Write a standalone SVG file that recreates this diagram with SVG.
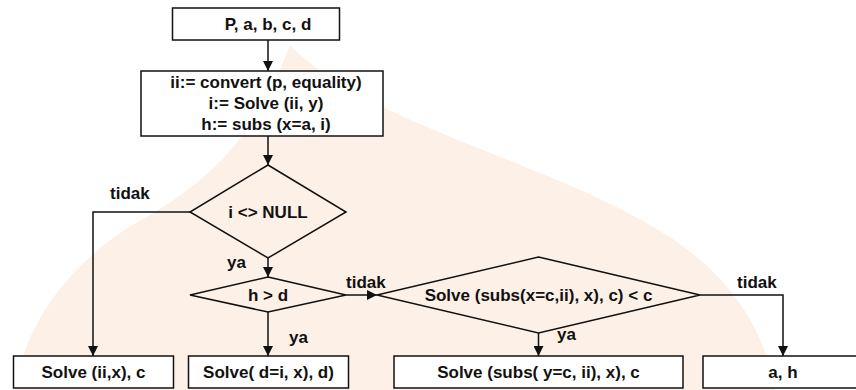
<svg xmlns="http://www.w3.org/2000/svg" width="856" height="390" viewBox="0 0 856 390">
  <defs>
    <marker id="arrow" markerWidth="10" markerHeight="10" refX="10" refY="5" orient="auto" markerUnits="userSpaceOnUse">
      <path d="M0,0 L10,5 L0,10 Z" fill="#111"/>
    </marker>
    <style>
      .shape { fill: #ffffff; stroke: #111; stroke-width: 1.5; }
      .dia { fill: none; stroke: #111; stroke-width: 1.5; }
      .edge { fill: none; stroke: #111; stroke-width: 1.5; marker-end: url(#arrow); }
      text { font-family: "Liberation Sans", Arial, sans-serif; font-size: 17px; font-weight: bold; fill: #111; }
      .c { text-anchor: middle; }
      .wm { fill: #fdf0e6; }
    </style>
  </defs>

  <rect width="856" height="390" fill="#ffffff"/>
  <!-- faint background emblem -->
  <path class="wm" d="M290,45 C360,120 540,160 650,225 C730,270 765,330 775,390 L15,390 C25,320 75,255 150,215 C235,165 265,110 290,45 Z"/>

  <g id="connectors">
    <path class="edge" d="M268,40 V71"/>
    <path class="edge" d="M268,136 V165"/>
    <path class="edge" d="M190,212 H93 V356"/>
    <path class="edge" d="M268,258 V277"/>
    <path class="edge" d="M346,295 H377"/>
    <path class="edge" d="M268,312 V356"/>
    <path class="edge" d="M538.5,333 V356"/>
    <path class="edge" d="M700,295 H783 V356"/>
    <text x="110" y="199">tidak</text>
    <text x="227" y="268">ya</text>
    <text x="346" y="288">tidak</text>
    <text x="289" y="343">ya</text>
    <text x="557" y="340">ya</text>
    <text x="737" y="288">tidak</text>
  </g>

  <g id="input">
    <rect class="shape" x="172.5" y="8" width="167" height="32"/>
    <text class="c" x="268" y="30">P, a, b, c, d</text>
  </g>

  <g id="process">
    <rect class="shape" x="141" y="71" width="242" height="65"/>
    <text class="c" x="266" y="88">ii:= convert (p, equality)</text>
    <text class="c" x="266" y="109">i:= Solve (ii, y)</text>
    <text class="c" x="266" y="130">h:= subs (x=a, i)</text>
  </g>

  <g id="check-null">
    <path class="dia" d="M268,165 L346,212 L268,258 L190,212 Z"/>
    <text class="c" x="268" y="218">i &lt;&gt; NULL</text>
  </g>

  <g id="check-hd">
    <path class="dia" d="M268,277 L346,295 L268,312 L190,295 Z"/>
    <text class="c" x="268" y="301">h &gt; d</text>
  </g>

  <g id="check-c">
    <path class="dia" d="M538.5,257 L700,295 L538.5,333 L377,295 Z"/>
    <text class="c" x="538.5" y="301">Solve (subs(x=c,ii), x), c) &lt; c</text>
  </g>

  <g id="out-null">
    <rect class="shape" x="13.5" y="356" width="160" height="32"/>
    <text class="c" x="93.5" y="378">Solve (ii,x), c</text>
  </g>

  <g id="out-hd">
    <rect class="shape" x="188.5" y="356" width="160" height="32"/>
    <text class="c" x="268.5" y="378">Solve( d=i, x), d)</text>
  </g>

  <g id="out-c">
    <rect class="shape" x="394" y="356" width="289" height="32"/>
    <text class="c" x="538.5" y="378">Solve (subs( y=c, ii), x), c</text>
  </g>

  <g id="out-ah">
    <rect class="shape" x="703" y="356" width="162" height="32"/>
    <text class="c" x="783" y="378">a, h</text>
  </g>
</svg>
